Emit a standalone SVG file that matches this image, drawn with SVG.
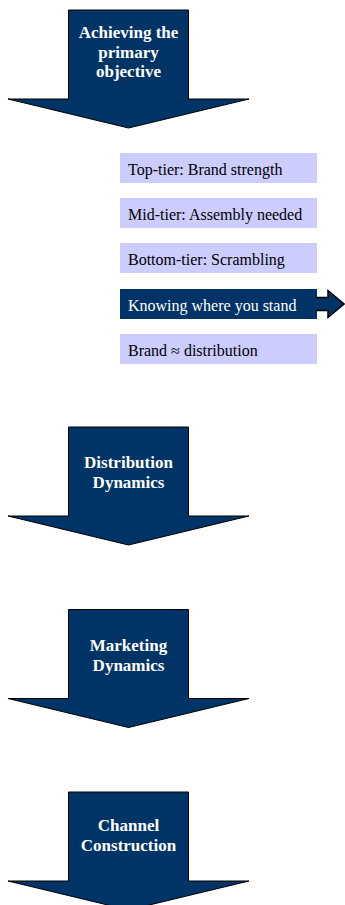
<svg xmlns="http://www.w3.org/2000/svg" xmlns:xlink="http://www.w3.org/1999/xlink" width="345" height="905" viewBox="0 0 345 905">
  <style>
    .big { fill: #003366; stroke: #000; stroke-width: 1; }
    .title { font-family: "Liberation Serif", "Times New Roman", serif; font-size: 17px; font-weight: bold; fill: #ffffff; text-anchor: middle; }
    .item { fill: #ccccff; }
    .item-on { fill: #003366; }
    .label { font-family: "Liberation Serif", "Times New Roman", serif; font-size: 16px; fill: #000; }
    .label-on { fill: #ffffff; }
  </style>
  <defs>
    <!-- downward block arrow: shaft 120 wide, head 241 wide -->
    <path id="down" d="M68.5,0 H188.5 V89 H249 L128.5,118 L8,89 H68.5 Z"/>
  </defs>
  <rect width="345" height="905" fill="#ffffff"/>

  <g id="step-objective">
    <use xlink:href="#down" class="big" transform="translate(0,10)"/>
    <text class="title" x="128.5" y="38">Achieving the</text>
    <text class="title" x="128.5" y="57.5">primary</text>
    <text class="title" x="128.5" y="77">objective</text>
  </g>

  <g id="item-top">
    <rect class="item" x="120" y="153" width="197" height="30"/>
    <text class="label" x="128" y="175">Top-tier: Brand strength</text>
  </g>
  <g id="item-mid">
    <rect class="item" x="120" y="198" width="197" height="30"/>
    <text class="label" x="128" y="220">Mid-tier: Assembly needed</text>
  </g>
  <g id="item-bottom">
    <rect class="item" x="120" y="243" width="197" height="30"/>
    <text class="label" x="128" y="265">Bottom-tier: Scrambling</text>
  </g>
  <g id="item-stand">
    <rect class="item-on" x="120" y="289" width="197" height="30"/>
    <text class="label label-on" x="128" y="311">Knowing where you stand</text>
  </g>
  <g id="item-brand">
    <rect class="item" x="120" y="334" width="197" height="30"/>
    <text class="label" x="128" y="356">Brand ≈ distribution</text>
  </g>

  <g id="connectors">
    <path d="M316,297.5 H328 V290.5 L344,304 L328,317.5 V310.5 H316" fill="#003366" stroke="#000" stroke-width="1.5" stroke-linejoin="miter"/>
  </g>

  <g id="step-distribution">
    <use xlink:href="#down" class="big" transform="translate(0,427)"/>
    <text class="title" x="128.5" y="468">Distribution</text>
    <text class="title" x="128.5" y="488">Dynamics</text>
  </g>

  <g id="step-marketing">
    <use xlink:href="#down" class="big" transform="translate(0,609.5)"/>
    <text class="title" x="128.5" y="650.5">Marketing</text>
    <text class="title" x="128.5" y="670.5">Dynamics</text>
  </g>

  <g id="step-channel">
    <use xlink:href="#down" class="big" transform="translate(0,792)"/>
    <text class="title" x="128.5" y="831">Channel</text>
    <text class="title" x="128.5" y="851">Construction</text>
  </g>
</svg>
